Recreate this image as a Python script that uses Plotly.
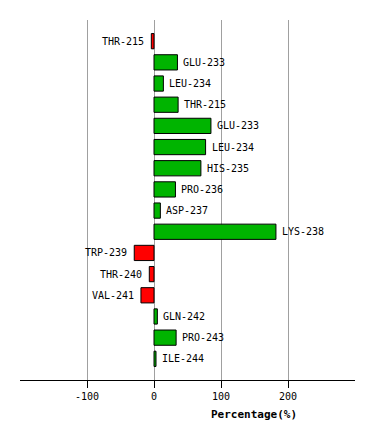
import plotly.graph_objects as go

labels = ["THR-215", "GLU-233", "LEU-234", "THR-215", "GLU-233", "LEU-234", "HIS-235",
          "PRO-236", "ASP-237", "LYS-238", "TRP-239", "THR-240", "VAL-241", "GLN-242",
          "PRO-243", "ILE-244"]
values = [-4, 35, 14, 36, 85, 77, 70, 32, 9.5, 182, -29.5, -7, -19.5, 5, 33, 3]
tick_vals = [-100, 0, 100, 200]
tick_text = ["-100", "0", "100", "200"]

positions = list(range(len(labels)))
colors = ["rgb(0,180,0)" if v >= 0 else "rgb(255,0,0)" for v in values]

fig = go.Figure()
fig.add_trace(go.Bar(
    x=values, y=positions, orientation="h",
    marker=dict(color=colors, line=dict(color="black", width=1)),
    width=0.72, hoverinfo="skip",
))

font = dict(family="DejaVu Sans Mono", size=10, color="black")
for p, v, lab in zip(positions, values, labels):
    fig.add_annotation(
        x=v, y=p, text=lab, showarrow=False, font=font,
        xanchor="left" if v >= 0 else "right",
        xshift=4 if v >= 0 else -5,
    )

fig.add_annotation(
    x=254, y=414, xref="paper", yref="paper", text="<b>Percentage(%)</b>",
    showarrow=False, font=dict(family="DejaVu Sans Mono", size=11, color="black"),
)
# convert pixel coords to paper for title
fig.layout.annotations[-1].update(x=(254 - 20) / 335, y=(380 - 414) / 360, xanchor="center", yanchor="middle")

fig.update_layout(
    width=374, height=440,
    margin=dict(l=20, r=19, t=20, b=60),
    paper_bgcolor="white", plot_bgcolor="white",
    showlegend=False,
    xaxis=dict(
        range=[-200, 300], tickvals=tick_vals, ticktext=tick_text,
        showgrid=True, gridcolor="#a0a0a0", gridwidth=1,
        zeroline=False, showline=True, linecolor="black", linewidth=1,
        ticks="outside", ticklen=7, tickcolor="black",
        tickfont=font, fixedrange=True,
    ),
    yaxis=dict(
        range=[16, -1], showticklabels=False, showgrid=False,
        zeroline=False, showline=False, ticks="", fixedrange=True,
    ),
)

fig.write_html("out.html", config={"displayModeBar": False})
